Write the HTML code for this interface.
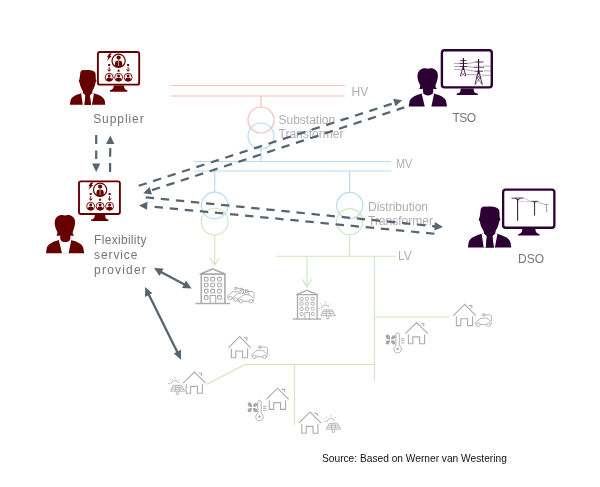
<!DOCTYPE html>
<html><head><meta charset="utf-8">
<style>
html,body{margin:0;padding:0;background:#fff;}
body{width:600px;height:487px;overflow:hidden;}
svg{display:block;will-change:transform;}
text{font-family:"Liberation Sans",sans-serif;}
</style></head>
<body>
<svg width="600" height="487" viewBox="0 0 600 487">
<defs>
  <!-- house: apex at 0,0 -->
  <g id="house" fill="none" stroke="#ababab" stroke-width="1.1" stroke-linejoin="miter">
    <path d="M-11.2,11.2 L0,0 L11.2,11.2"/>
    <path d="M-8.2,12 L-8.2,21.2 L-3.8,21.2 L-3.8,14.4 L3,14.4 L3,21.2 L8,21.2 L8,12"/>
    <path d="M4.2,1.2 L7.2,1.2 L7.2,4"/>
  </g>
  <!-- building: apex at 0,0 -->
  <g id="bldg" fill="none" stroke="#ababab" stroke-width="1.6">
    <path d="M-12.5,5.6 L0,0.4 L12.5,5.6 Z" stroke-linejoin="round"/>
    <path d="M-11.4,6 L-11.4,35 M12.2,6 L12.2,35" />
    <path d="M-17.3,35 L17.3,35"/>
    <g stroke-width="1.1">
      <rect x="-8.3" y="8.9" width="3.6" height="3.6" rx="0.8"/>
      <rect x="-1.9" y="8.9" width="3.8" height="3.6" rx="0.8"/>
      <rect x="5" y="8.9" width="3.6" height="3.6" rx="0.8"/>
      <rect x="-8.3" y="14.7" width="3.6" height="3.6" rx="0.8"/>
      <rect x="-1.9" y="14.7" width="3.8" height="3.6" rx="0.8"/>
      <rect x="5" y="14.7" width="3.6" height="3.6" rx="0.8"/>
      <rect x="-8.3" y="20.9" width="3.6" height="3.6" rx="0.8"/>
      <rect x="-1.9" y="20.9" width="3.8" height="3.6" rx="0.8"/>
      <rect x="5" y="20.9" width="3.6" height="3.6" rx="0.8"/>
      <rect x="-8.3" y="27.1" width="3.6" height="3.6" rx="0.8"/>
      <rect x="5" y="27.1" width="3.6" height="3.6" rx="0.8"/>
      <path d="M-2.6,35 L-2.6,27 L3,27 L3,35"/>
    </g>
  </g>
  <!-- car: origin top-left of bbox -->
  <g id="car" stroke="#ababab" stroke-width="0.9">
    <path fill="#fff" d="M0.8,12 C-0.1,10.2 0.6,8.8 2.6,8.3 L4.3,6.4 C5.6,5.2 10.6,5 12.6,6.4 L15,8.5 C16.2,9.3 16.4,11 15.6,12 Z"/>
    <circle cx="3.1" cy="12" r="1.8" fill="#fff"/>
    <circle cx="13.3" cy="12" r="1.8" fill="#fff"/>
    <path fill="none" d="M7.6,3.3 L7.6,1.3 L9.6,1.3 L9.6,3.3 Z M9.6,2.3 L14.5,2.3 C15.8,2.3 16.3,3 16.3,4.5 L16.3,8.8"/>
  </g>
  <!-- solar: origin top-left -->
  <g id="solar" fill="none" stroke="#ababab" stroke-width="0.8">
    <path d="M4.3,8 A4.2,4.2 0 0 1 12.3,7"/>
    <path d="M8.4,1 L8.4,2.6 M3.5,3 L4.5,4 M13.3,3 L12.3,4 M1.5,7.5 L3,7.5"/>
    <path d="M6.8,9.3 L14.9,9.3 L18.3,15.2 L3.8,15.2 Z M5.6,11.2 L16.4,11.2 M4.7,13.2 L17.3,13.2 M9.6,9.3 L8.7,15.2 M12.2,9.3 L13.4,15.2"/>
    <path d="M9.8,15.2 L9.8,18.4 L11.8,18.4 L11.8,15.2"/>
  </g>
  <!-- fan + thermometer: origin top-left -->
  <g id="fanth">
    <g fill="#a8a8a8" transform="translate(4.9,7.2) scale(1.22) translate(-4.9,-7.2)">
      <path d="M4.5,7 C3.5,6.8 1.5,7 1.1,5.5 C0.6,3.6 2.2,2.8 3.2,3.3 C4.4,3.9 4.8,5.5 4.5,7 Z"/>
      <path d="M5.2,6.6 C5.6,5.3 6.3,3.6 7.8,3.8 C9.4,4 9.6,5.5 8.7,6.2 C7.8,6.9 6.5,6.8 5.2,6.6 Z"/>
      <path d="M4.4,7.9 C3,8 1.4,8 1,9.4 C0.6,11 2.2,11.6 3.1,11.2 C4.2,10.6 4.6,9.3 4.4,7.9 Z"/>
      <path d="M5.3,7.8 C6.8,7.8 8.4,8 8.8,9.4 C9.1,10.8 7.9,11.8 6.9,11.3 C5.7,10.7 5.3,9.3 5.3,7.8 Z"/>
    </g>
    <g fill="none" stroke="#ababab" stroke-width="0.9">
      <path d="M10.3,13.5 L10.3,2 A1.7,1.7 0 0 1 13.7,2 L13.7,13.5 A3.8,3.8 0 1 1 10.3,13.5 Z"/>
      <path d="M15.5,6.4 L19,6.4 M15.5,8.4 L19,8.4 M15.5,10.6 L19,10.6"/>
      <circle cx="12" cy="16.6" r="0.9" fill="#a6a6a6"/>
    </g>
  </g>
</defs>

<!-- ============ HV / substation ============ -->
<g stroke="#fbbcbc" stroke-width="1.2" fill="none">
  <path d="M171,85.5 L345,85.5 M171,96 L345,96"/>
  <path d="M261,96 L261,107"/>
  <circle cx="261" cy="120" r="13"/>
</g>
<g stroke="#b9dbee" stroke-width="1.2" fill="none">
  <circle cx="261" cy="136" r="13"/>
  <path d="M261,149 L261,161.5"/>
  <path d="M194,161.5 L391,161.5 M194,171 L391,171"/>
  <path d="M214.7,171 L214.7,192.3 M349.7,171 L349.7,192.3"/>
  <circle cx="214.7" cy="205.5" r="13.3"/>
  <circle cx="349.7" cy="205.5" r="13.1"/>
</g>
<g stroke="#cfe5bf" stroke-width="1.1" fill="none">
  <circle cx="214.7" cy="221.6" r="13.4"/>
  <circle cx="349.7" cy="221.7" r="13.1"/>
  <path d="M214.7,235 L214.7,265 M210.3,258 L214.7,265 L219.2,258"/>
  <path d="M349.7,234.8 L349.7,256.2"/>
  <path d="M276.3,256.2 L396.3,256.2"/>
  <path d="M307,256.2 L307,287 M302.2,279.2 L307,287 L311.8,279.2"/>
  <path d="M374.4,256.2 L374.4,380"/>
  <path d="M374.4,317 L449,317"/>
  <path d="M206.4,384.4 L245,364.5 L374.4,364.5"/>
  <path d="M294.5,364.5 L294.5,425"/>
</g>

<g fill="#b0adb2" font-size="12">
  <text x="351.6" y="95.7">HV</text>
  <text x="395.9" y="167.7" textLength="16.3" lengthAdjust="spacingAndGlyphs">MV</text>
  <text x="398" y="260">LV</text>
  <text x="278.5" y="124">Substation</text>
  <text x="278.5" y="138">Transformer</text>
  <text x="368" y="211.3">Distribution</text>
  <text x="368" y="225">Transformer</text>
</g>

<!-- ============ buildings & houses ============ -->
<use href="#bldg" x="212.7" y="268.5"/>
<use href="#bldg" transform="translate(307,290) scale(0.83)"/>
<use href="#house" x="464.6" y="304.4"/>
<use href="#house" x="416.6" y="322.5"/>
<use href="#house" x="239.6" y="336.6"/>
<use href="#house" x="194.4" y="372"/>
<use href="#house" x="277.5" y="388.2"/>
<use href="#house" x="310" y="412"/>
<use href="#car" x="475.2" y="312.6"/>
<use href="#car" x="251.2" y="344.8"/>
<use href="#car" x="227.2" y="286"/>
<use href="#car" x="232.5" y="287.6"/>
<use href="#car" x="237.7" y="289.2"/>
<use href="#solar" x="317" y="300.5"/>
<use href="#solar" x="166.5" y="376"/>
<use href="#solar" x="322.5" y="414"/>
<use href="#fanth" x="385.6" y="332.3"/>
<use href="#fanth" x="247.5" y="400"/>

<!-- ============ Supplier ============ -->
<g fill="#660000">
  <rect x="97.9" y="51.95" width="41.3" height="32.7" rx="2" fill="none" stroke="#660000" stroke-width="1.9"/>
  <path d="M113.8,85.6 L124,85.6 L124.3,87.8 C124.8,89.5 126,89.9 127.3,90.2 L127.3,91.7 L110,91.7 L110,90.2 C111.3,89.9 112.7,89.5 113.4,87.8 Z"/>
  <path d="M81.1,93.2 C76,95 71.5,96.5 70.5,100.5 L69.9,104.8 L105.3,104.8 L104.7,100.5 C103.5,96.5 99,95 94,93.2 Z"/>
</g>
<path d="M81.1,93.2 L85.4,93.2 L84.5,104.9 L82.8,104.9 Z M89.7,93.2 L94,93.2 L91.9,104.9 L91,104.9 Z" fill="#fff"/>
<path fill="#660000" d="M80.2,74 C80,70.8 82,69.6 85,70.2 C88,69.6 95.6,69.9 95.6,74 L95.8,79.6 C96.6,79.8 96.6,82.2 95.5,82.6 C95,86 93.8,88.8 92.6,90.6 L92,93.2 L89.7,95.5 L91,104.9 L84.5,104.9 L85.6,95.5 L83.2,93.2 L82.6,90.6 C81.4,88.8 80,86 79.6,82.6 C78.6,82.2 78.6,79.8 79.4,79.6 Z"/>

<!-- ============ FSP ============ -->
<g fill="#660000">
  <rect x="79" y="181.35" width="40.9" height="32.7" rx="2" fill="none" stroke="#660000" stroke-width="1.9"/>
  <path d="M94.9,215 L105.1,215 L105.4,217.2 C105.9,218.9 107.1,219.3 108.4,219.6 L108.4,221 L91.1,221 L91.1,219.6 C92.4,219.3 93.8,218.9 94.5,217.2 Z"/>
</g>
<g transform="translate(-362.8,146.7)" color="#660000">
  <g id="woman">
    <path d="M421.6,93.4 C416,95.2 411.5,96.8 409.7,100.8 L408.7,106.5 L447,106.5 L446,100.8 C444.2,96.8 439.7,95.2 434.1,93.4 Z" fill="currentColor"/>
    <path d="M421.6,93.4 L434.1,93.4 L431.3,107 L424.9,107 Z" fill="#fff"/>
    <path fill="currentColor" d="M419.2,88.8 C420.2,87.5 420.5,86 419.8,84.5 C418,81 417.3,78 417.5,75.5 C417.8,70.5 421.5,68.2 425,68.3 C426.5,68.5 427.5,68.9 428.3,68.7 C430,68.2 431.5,68.1 433,68.5 C436.5,69.6 438,72.5 437.9,75.5 C437.8,78.5 437.2,81 435.8,84.5 C435.2,86 435.4,87.6 436.9,88.8 C435.5,89.3 434,89 433.2,88.8 L433.2,92 C432.5,94.6 430,95.4 428,95.4 C426,95.4 423.6,94.6 423,92 L423,88.8 C422,89 420.5,89.3 419.2,88.8 Z"/>
  </g>
</g>

<!-- ============ TSO ============ -->
<g color="#2d0034"><use href="#woman"/></g>
<g fill="#2d0034">
  <rect x="441.9" y="50.3" width="49.9" height="37.1" rx="2.6" fill="none" stroke="#2d0034" stroke-width="2.4"/>
  <path d="M460.8,88.5 L473.6,88.5 L474,91.2 C474.5,92.8 476,93.2 477.7,93.5 L477.7,94.9 L456.7,94.9 L456.7,93.5 C458.4,93.2 459.9,92.8 460.4,91.2 Z"/>
</g>
<g fill="none" stroke="#2d0034">
  <path d="M463.4,58 L463.4,70 M478.6,59.1 L478.6,74" stroke-width="1.1"/>
  <path d="M463.4,66 L460.3,76.3 M463.4,66 L465.8,76.3 M460.3,60.6 H466.5 M459.5,63.5 H467 M459.8,66.5 H467 M478.6,70 L474.9,84.8 M478.6,70 L482.3,84.8 M474.7,62 H483.5 M474,67.2 H484 M475,71.2 H483" stroke-width="0.8"/>
  <path d="M461.2,72.5 L465.2,76.3 M465.2,72.5 L461.2,76.3 M476,76 L481.6,84 M481.2,76 L475.6,84 M476.5,74 L481,79 M480.7,74 L476.3,79" stroke-width="0.5"/>
  <path d="M454,63.4 L459.5,63.5 M454,66.5 L459.8,66.5 M454,69.4 L462,69.4 M467,63.6 L474.5,62.4 M467,66.6 L474,67.4 M465.5,69.6 L475,71.3 M466,74.5 L476.5,74.8 M483.5,66.1 L490.6,66.1 M484,70.9 L490.6,70.9 M482,75.3 L490.6,75.3" stroke="#6f5a76" stroke-width="0.55"/>
</g>

<!-- ============ DSO ============ -->
<g fill="#2d0034">
  <rect x="503.15" y="189.55" width="51.2" height="38.2" rx="2.6" fill="none" stroke="#2d0034" stroke-width="2.3"/>
  <path d="M522.3,228.9 L535.3,228.9 L535.8,231.6 C536.5,233.4 538,233.9 539.5,234.2 L539.5,235.6 L518.1,235.6 L518.1,234.2 C519.6,233.9 520.9,233.4 521.9,231.8 Z"/>
</g>
<g fill="none" stroke="#3d1f45">
  <path d="M517.6,199 L517.6,220.8" stroke-width="1.1"/>
  <path d="M534.6,201.6 L534.6,215.6" stroke-width="1"/>
  <path d="M546.6,204.6 L546.6,212.5" stroke="#8a7a90" stroke-width="0.8"/>
  <path d="M511.5,198.2 L523.6,198 M515,198.2 L517.6,200 L520.5,198.2" stroke-width="0.9"/>
  <path d="M531.1,201.4 L538.3,201.3 M533.2,201.4 L534.6,202.4 L536.2,201.4" stroke-width="0.8"/>
  <path d="M544.1,204.6 L548.6,204.5" stroke="#8a7a90" stroke-width="0.6"/>
  <path d="M523.6,198 Q528,200.5 531.1,201.4 M518,201 Q526,201.8 532.5,201.6 M538.3,201.3 Q542,203 544.1,204.6 M535.5,202.2 Q541,203.5 546,204.7" stroke="#a89cad" stroke-width="0.5"/>
</g>
<g transform="translate(382.2,124.3) scale(1.226,1.175)">
  <path d="M81.1,93.2 C76,95 71.5,96.5 70.5,100.5 L69.9,104.8 L105.3,104.8 L104.7,100.5 C103.5,96.5 99,95 94,93.2 Z" fill="#2d0034"/>
  <path d="M81.1,93.2 L85.4,93.2 L84.5,104.9 L82.8,104.9 Z M89.7,93.2 L94,93.2 L91.9,104.9 L91,104.9 Z" fill="#fff"/>
  <path fill="#2d0034" d="M80.2,74 C80,70.8 82,69.6 85,70.2 C88,69.6 95.6,69.9 95.6,74 L95.8,79.6 C96.6,79.8 96.6,82.2 95.5,82.6 C95,86 93.8,88.8 92.6,90.6 L92,93.2 L89.7,95.5 L91,104.9 L84.5,104.9 L85.6,95.5 L83.2,93.2 L82.6,90.6 C81.4,88.8 80,86 79.6,82.6 C78.6,82.2 78.6,79.8 79.4,79.6 Z"/>
</g>

<!-- ============ labels ============ -->
<g fill="#757575" font-size="12">
  <text x="93.2" y="122.5" letter-spacing="0.92">Supplier</text>
  <text x="94.1" y="243.7" letter-spacing="0.3">Flexibility</text>
  <text x="94.1" y="259" letter-spacing="0.88">service</text>
  <text x="94.1" y="274.3" letter-spacing="1.2">provider</text>
  <text x="452.5" y="121.5" letter-spacing="-0.6">TSO</text>
  <text x="518" y="262.9">DSO</text>
</g>
<text x="322" y="461.7" font-size="10.2" fill="#111">Source: Based on Werner van Westering</text>

<!-- ============ dashed arrows ============ -->
<g stroke="#56656f" stroke-width="2.25" fill="none" stroke-dasharray="8.4 6.75">
  <path d="M138.75,185.8 L394,103.1"/>
  <path d="M152,190.15 L404.3,107.4"/>
  <path d="M145.7,197.3 L436,226.4"/>
  <path d="M154.6,206.9 L434.9,233.8"/>
</g>
<g fill="#56656f">
  <path d="M402.2,100.3 L393.1,98.8 L395.5,106.2 Z"/>
  <path d="M143.2,193.2 L149.6,187 L152,194.6 Z"/>
  <path d="M443,227.1 L434.8,222.1 L434.3,230.5 Z"/>
  <path d="M139,205.4 L147.5,201.8 L147,209.7 Z"/>
</g>
<g stroke="#56656f" stroke-width="2.2" fill="none">
  <path d="M96.2,135.1 L96.2,143.9 M96.2,150.5 L96.2,159"/>
  <path d="M110.3,148 L110.1,156.7 M110.1,163 L110.1,171.9"/>
</g>
<g fill="#56656f">
  <path d="M92.1,163.4 L100.3,163.4 L96.2,172.1 Z"/>
  <path d="M106.1,143.9 L114.4,143.9 L110.3,135.6 Z"/>
</g>
<!-- solid double arrows -->
<g stroke="#56656f" stroke-width="2.3" fill="none">
  <path d="M160,271.5 L185.5,285"/>
  <path d="M148.5,294 L177.5,352.5"/>
</g>
<g fill="#56656f">
  <path d="M154,268 L163.5,268.6 L159.6,276 Z"/>
  <path d="M191.5,288.5 L182,288 L186,280.5 Z"/>
  <path d="M145.2,287 L152.3,293.3 L145,297 Z"/>
  <path d="M181,359.7 L173.8,353.5 L181,349.7 Z"/>
</g>

<!-- monitor contents (supplier & FSP) -->
<g id="mcont" fill="#660000">
  <path d="M109.3,53.5 L111.9,53.5 L110,56 L111.6,56 L106.9,60.9 L108.4,57.3 L106.9,57.3 Z"/>
  <circle cx="118.6" cy="60.8" r="6.6" fill="none" stroke="#660000" stroke-width="1.2"/>
  <circle cx="118.6" cy="57.6" r="2.1"/>
  <path d="M115,66.6 L115,63.5 C115,61.2 116.5,60.6 118.6,60.6 C120.7,60.6 122.2,61.2 122.2,63.5 L122.2,66.6 C120,67.5 117.2,67.5 115,66.6 Z"/>
  <path d="M118.6,61 L118.6,66" stroke="#fff" stroke-width="0.6"/>
  <rect x="108.2" y="64" width="2" height="2"/>
  <rect x="117.6" y="69.7" width="2" height="2"/>
  <rect x="127.1" y="64" width="2" height="2"/>
  <path d="M109.2,67 L109.2,71 M107.7,69.4 L109.2,71.4 L110.7,69.4 M128.1,67 L128.1,71 M126.6,69.4 L128.1,71.4 L129.6,69.4" stroke="#660000" stroke-width="0.9" fill="none"/>
  <g fill="none" stroke="#660000" stroke-width="0.9">
    <circle cx="109.2" cy="77.3" r="4"/>
    <circle cx="118.6" cy="77.3" r="4"/>
    <circle cx="128.1" cy="77.3" r="4"/>
  </g>
  <circle cx="109.2" cy="75.9" r="1.45"/>
  <circle cx="118.6" cy="75.9" r="1.45"/>
  <circle cx="128.1" cy="75.9" r="1.45"/>
  <path d="M106.34,80.10 C106.30,78.10 107.60,77.40 109.20,77.40 C110.80,77.40 112.10,78.10 112.06,80.10 A4,4 0 0 1 106.34,80.10 Z M115.74,80.10 C115.70,78.10 117.00,77.40 118.60,77.40 C120.20,77.40 121.50,78.10 121.46,80.10 A4,4 0 0 1 115.74,80.10 Z M125.24,80.10 C125.20,78.10 126.50,77.40 128.10,77.40 C129.70,77.40 131.00,78.10 130.96,80.10 A4,4 0 0 1 125.24,80.10 Z"/>
</g>
<use href="#mcont" transform="translate(-18.5,129)"/>
</svg>
</body></html>
